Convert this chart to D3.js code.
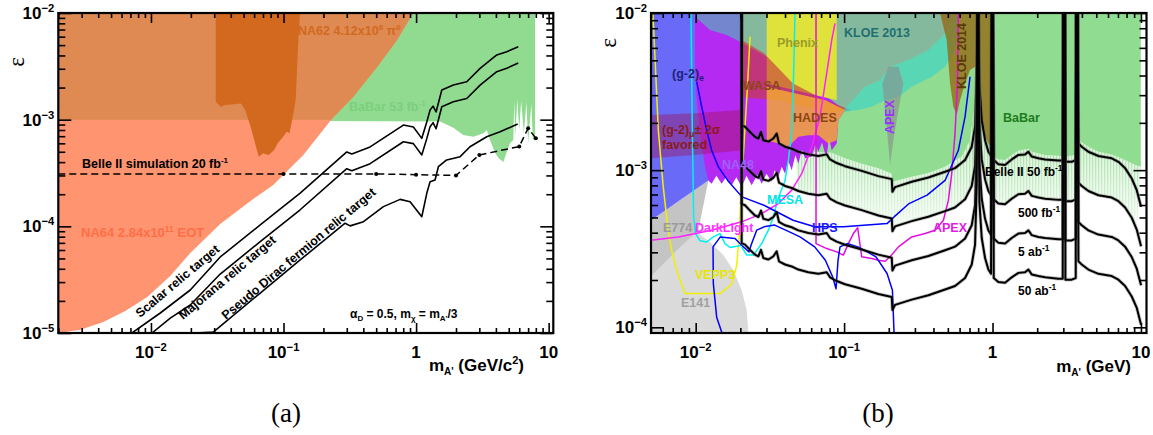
<!DOCTYPE html>
<html><head><meta charset="utf-8">
<script src="https://cdn.jsdelivr.net/npm/d3@7"></script>
<style>
body{margin:0;background:#fff}
svg{display:block}
text{font-family:"Liberation Sans",Arial,Helvetica,sans-serif;font-weight:bold}
text.serif{font-family:"Liberation Serif","Times New Roman",serif;font-weight:normal}
</style></head>
<body><svg id="c" width="1153" height="435"></svg>
<script>
// ================= DATA (left panel a) =================
const na64Edge = [[0.002,1e-5],[0.00293,1.07e-5],[0.00437,1.27e-5],[0.0064,1.61e-5],[0.00938,2.18e-5],[0.01397,3.42e-5],[0.0198,5.62e-5],[0.0333,1.05e-4],[0.059,1.8e-4],[0.0836,2.44e-4],[0.141,4.67e-4],[0.225,9.7e-4],[0.335,1.63e-3],[0.508,3.12e-3],[0.719,5.58e-3],[0.95,1e-2]];
const na62Spike = [[0.0308,1e-2],[0.0308,1.47e-3],[0.0336,1.32e-3],[0.0363,1.37e-3],[0.0477,1.42e-3],[0.0514,1.23e-3],[0.0565,8.6e-4],[0.0601,6.45e-4],[0.0629,5.2e-4],[0.0652,4.5e-4],[0.0702,4.84e-4],[0.0773,4.67e-4],[0.085,5.2e-4],[0.0903,6.0e-4],[0.0994,6.9e-4],[0.1057,7.7e-4],[0.111,7.45e-4],[0.116,9.9e-4],[0.1235,1.53e-3],[0.13,6.45e-3],[0.1333,1e-2]];
const babarLeft = [[0.002,1e-3],[1.52,9.6e-4],[1.91,8.4e-4],[2.27,7.2e-4],[2.7,6.9e-4],[3.22,7.45e-4],[3.41,8.0e-4],[3.61,6.45e-4],[3.94,4.9e-4],[4.17,4.4e-4],[4.55,4.0e-4],[4.75,4.7e-4],[5.11,6.0e-4],[5.41,6.45e-4],[5.5,1.5e-3],[5.6,7e-4],[5.8,1.55e-3],[6.0,8e-4],[6.2,1.5e-3],[6.5,7.5e-4],[6.8,1.45e-3],[7.0,6e-4],[7.4,1.4e-3],[7.6,6.5e-4],[7.9,6.5e-4],[7.9,1e-2],[0.002,1e-2]];
const scalarRelic = [[0.00719,1e-5],[0.01175,1.54e-5],[0.0198,2.53e-5],[0.0333,5.16e-5],[0.0667,1.03e-4],[0.1335,2.05e-4],[0.30,4.98e-4],[0.3275,4.76e-4],[0.45,5.55e-4],[0.802,8.9e-4],[0.954,8.53e-4],[1.104,6.68e-4],[1.204,9.5e-4],[1.275,1.23e-3],[1.343,1.34e-3],[1.415,1.18e-3],[1.563,1.9e-3],[1.91,2.11e-3],[2.41,2.27e-3],[3.04,3.03e-3],[4.06,4.04e-3],[4.83,4.34e-3],[5.9,4.83e-3]];
const majoranaRelic = [[0.01018,1e-5],[0.01398,1.38e-5],[0.0198,1.83e-5],[0.0333,3.57e-5],[0.0667,7.18e-5],[0.1335,1.43e-4],[0.30,3.47e-4],[0.3275,3.32e-4],[0.45,3.87e-4],[0.802,6.21e-4],[0.954,5.96e-4],[1.104,4.67e-4],[1.204,6.64e-4],[1.275,8.6e-4],[1.343,9.37e-4],[1.415,8.22e-4],[1.563,1.32e-3],[1.91,1.47e-3],[2.41,1.58e-3],[3.04,2.11e-3],[4.06,2.82e-3],[4.83,3.03e-3],[5.9,3.4e-3]];
const diracRelic = [[0.0216,1e-5],[0.0295,1.02e-5],[0.0667,2.37e-5],[0.1335,4.84e-5],[0.2915,1.07e-4],[0.318,1.01e-4],[0.401,1.105e-4],[0.567,1.53e-4],[0.758,1.79e-4],[0.901,1.70e-4],[1.104,1.23e-4],[1.204,2.04e-4],[1.275,2.62e-4],[1.39,2.72e-4],[1.473,3.62e-4],[1.70,4.19e-4],[2.15,4.5e-4],[2.55,5.58e-4],[3.41,6.92e-4],[4.3,7.7e-4],[5.84,9.1e-4]];
const belleSimMass = [0.002,0.1,0.5,1.0,2.0,3.0,6.0,7.0,8.0];
const belleSimEps  = [3.1e-4,3.1e-4,3.1e-4,3.05e-4,3.0e-4,4.67e-4,5.6e-4,8.3e-4,6.7e-4];
const leftXMajor = [0.01,0.1,1,10];
const leftXLabels = [["10","\u22122"],["10","\u22121"],["1",""],["10",""]];
const leftYMajor = [1e-2,1e-3,1e-4,1e-5];
const leftYLabels = [["10","\u22122"],["10","\u22123"],["10","\u22124"],["10","\u22125"]];

// ================= DATA (right panel b) =================
const e141 = [[0.005,9.2e-5],[0.02264,9.2e-5],[0.0221,1.28e-4],[0.0204,1.72e-4],[0.01794,2.31e-4],[0.01536,2.88e-4],[0.01249,3.49e-4],[0.01042,3.95e-4],[0.0094,4.8e-4],[0.005,7.8e-4]];
const e774 = [[0.005,4.8e-4],[0.005,2.12e-4],[0.00745,3.09e-4],[0.01042,4.15e-4],[0.01217,8.6e-4]];
const g2eRegion = [[0.005,1e-2],[0.0204,1e-2],[0.0204,1.22e-3],[0.01217,8.6e-4],[0.005,4.8e-4]];
const babarRightEdge = [[0.0204,1.55e-3],[0.02784,1.48e-3],[0.03606,1.41e-3],[0.04672,1.34e-3],[0.06049,1.31e-3],[0.08251,1.29e-3],[0.1015,1.19e-3],[0.1314,1.10e-3],[0.1702,1.03e-3],[0.2094,9.5e-4],[0.2116,8.43e-4],[0.2855,9.07e-4],[0.3698,9.6e-4],[0.4787,1.05e-3],[0.6203,1.22e-3],[0.7057,1.55e-3],[0.7627,2.79e-3],[0.7907,1e-2],[0.803,1e-2],[0.8155,3.56e-3],[0.8458,2.08e-3],[0.8908,1.63e-3],[0.9625,1.34e-3],[0.9876,1e-2],[1.019,1e-2],[1.019,1.22e-3],[1.095,1.17e-3],[1.215,1.16e-3],[1.347,1.25e-3],[1.494,1.33e-3],[1.745,1.37e-3],[1.837,1.31e-3],[2.26,1.25e-3],[2.926,1.23e-3],[2.988,1e-2],[3.097,1e-2],[3.097,1.22e-3],[3.636,1.25e-3],[3.655,1e-2],[3.751,1e-2],[3.79,1.55e-3],[4.426,1.41e-3],[5.17,1.31e-3],[6.357,1.26e-3],[7.82,1.16e-3],[9.13,1.08e-3],[9.98,1.05e-3]];
const na48 = [[0.0099,9.5e-3],[0.01249,7.8e-3],[0.01618,7.24e-3],[0.0199,6.57e-3],[0.0251,5.81e-3],[0.03606,4.78e-3],[0.05456,3.74e-3],[0.08251,2.79e-3],[0.1015,2.41e-3],[0.09148,2.08e-3],[0.08916,1.48e-3],[0.08251,1.34e-3],[0.079,1.6e-3],[0.0765,1.25e-3],[0.07439,1.28e-3],[0.071,1.5e-3],[0.0671,1.31e-3],[0.064,1.45e-3],[0.06049,1.22e-3],[0.05456,1.19e-3],[0.052,1.35e-3],[0.04917,1.10e-3],[0.047,1.25e-3],[0.04436,1.0e-3],[0.042,1.15e-3],[0.04,9.5e-4],[0.038,1.05e-3],[0.03606,9.07e-4],[0.034,1.0e-3],[0.0325,8.43e-4],[0.03,9.5e-4],[0.02784,8.2e-4],[0.026,9.3e-4],[0.02385,8.02e-4],[0.022,9.2e-4],[0.0204,7.8e-4],[0.0188,9.0e-4],[0.01748,8.02e-4],[0.016,9.0e-4],[0.01497,8.2e-4],[0.0138,9.2e-4],[0.0128,8.2e-4],[0.01217,8.6e-4],[0.01156,1.05e-3],[0.0107,1.71e-3],[0.01016,2.79e-3],[0.0099,4.55e-3]];
const g2muBand = [[0.005,2.24e-3],[0.0099,2.3e-3],[0.0204,2.41e-3],[0.0204,1.34e-3],[0.0099,1.25e-3],[0.005,1.19e-3]];
const kloeGray = [[0.0099,1e-2],[0.5449,1e-2],[0.4787,7.4e-3],[0.3698,5.81e-3],[0.2711,5.02e-3],[0.2072,4.55e-3],[0.1746,3.74e-3],[0.1384,3.4e-3],[0.09938,2.41e-3],[0.08251,2.79e-3],[0.05456,3.74e-3],[0.03606,4.78e-3],[0.0251,5.81e-3],[0.0199,6.57e-3],[0.01618,7.24e-3],[0.01249,7.8e-3],[0.0099,9.5e-3]];
const phenix = [[0.0301,1e-2],[0.08916,1e-2],[0.08916,2.79e-3],[0.0301,3.56e-3]];
const wasa = [[0.0204,6.73e-3],[0.02886,5.54e-3],[0.04529,3.56e-3],[0.07478,2.79e-3],[0.1113,2.41e-3],[0.08251,2.3e-3],[0.05456,2.53e-3],[0.03606,2.79e-3],[0.0251,2.86e-3],[0.0204,2.93e-3]];
const hades = [[0.0301,3.4e-3],[0.07478,2.79e-3],[0.1015,2.41e-3],[0.09148,2.08e-3],[0.08916,1.55e-3],[0.07834,1.48e-3],[0.0671,1.67e-3],[0.05743,1.67e-3],[0.04917,1.63e-3],[0.04212,1.41e-3],[0.03606,1.48e-3],[0.0301,1.55e-3]];
const kloe2013 = [[0.09938,2.41e-3],[0.1384,3.4e-3],[0.1746,3.74e-3],[0.2072,4.55e-3],[0.2711,5.02e-3],[0.3698,5.81e-3],[0.4787,7.4e-3],[0.5449,1e-2],[0.5888,1e-2],[0.5888,8.2e-3],[0.559,5.81e-3],[0.4787,4.55e-3],[0.3893,3.93e-3],[0.2855,3.4e-3],[0.2322,2.93e-3],[0.1887,2.79e-3],[0.1535,2.53e-3],[0.1248,2.41e-3],[0.1015,2.35e-3]];
const apexRegion = [[0.1811,3.56e-3],[0.1937,1.89e-3],[0.204,1.08e-3],[0.2148,1.55e-3],[0.2322,2.41e-3],[0.2508,3.56e-3],[0.2322,4.55e-3],[0.1988,4.55e-3]];
const kloe2014 = [[0.4431,1e-2],[0.9876,1e-2],[0.9876,1.41e-3],[0.9378,1.48e-3],[0.8681,1.71e-3],[0.803,2.79e-3],[0.7627,4.55e-3],[0.7057,4.34e-3],[0.6531,3.56e-3],[0.6044,2.79e-3],[0.5738,2.24e-3],[0.5449,2.53e-3],[0.5174,3.56e-3],[0.4913,6.73e-3],[0.4548,9.03e-3]];
const vepp3Line = [[0.00513,9.95e-3],[0.00518,9.03e-3],[0.0056,1.8e-3],[0.00605,7.8e-4],[0.00648,4.36e-4],[0.00689,3.09e-4],[0.00745,2.31e-4],[0.00847,1.64e-4],[0.01459,1.64e-4],[0.01748,1.88e-4],[0.0189,2.48e-4],[0.0197,3.95e-4],[0.0204,8.2e-4],[0.0215,1.89e-3],[0.0224,3.56e-3],[0.02323,7.06e-3]];
const mesaLine1 = [[0.0093,1e-2],[0.0095,1.71e-3],[0.00969,5.04e-4],[0.01,3.95e-4],[0.0107,3.55e-4],[0.01186,3.49e-4],[0.01315,3.76e-4],[0.01459,3.95e-4],[0.01577,3.41e-4],[0.01703,3.22e-4],[0.0189,3.28e-4],[0.0204,3.33e-4]];
const mesaLine2 = [[0.0204,3.25e-4],[0.0221,2.88e-4],[0.02447,2.88e-4],[0.02784,3.41e-4],[0.0309,4.15e-4],[0.03337,5.04e-4],[0.03515,6.13e-4],[0.037,7.1e-4],[0.04,8.6e-4],[0.04212,1.16e-3],[0.04436,1.71e-3],[0.04552,3.56e-3],[0.04672,1e-2]];
const darkLightLine = [[0.005,3.58e-4],[0.00764,3.76e-4],[0.0128,4.15e-4],[0.0204,4.69e-4],[0.02784,5.29e-4],[0.03606,6.13e-4],[0.04436,7.46e-4],[0.05179,9.5e-4],[0.06049,1.41e-3],[0.06883,2.19e-3],[0.07634,4.13e-3],[0.08251,6.73e-3],[0.08688,8.6e-3]];
const apexLine = [[0.06469,1e-2],[0.06469,3.41e-4],[0.07634,3.17e-4],[0.08916,3.02e-4],[0.09886,2.88e-4],[0.1068,3.41e-4],[0.1155,3.95e-4],[0.1235,4.3e-4],[0.1314,2.81e-4],[0.1535,2.74e-4],[0.1702,2.67e-4],[0.1887,2.63e-4],[0.204,2.81e-4],[0.2322,3.25e-4],[0.2855,3.76e-4],[0.3511,3.95e-4],[0.41,4.15e-4],[0.4667,4.8e-4],[0.5042,6.44e-4],[0.531,9.5e-4],[0.559,1.71e-3],[0.5798,3.56e-3],[0.5888,1e-2]];
const g2eLine = [[0.01016,3.66e-3],[0.01098,2.53e-3],[0.01186,1.8e-3],[0.0128,1.34e-3],[0.01421,1.05e-3],[0.01643,8.6e-4],[0.0205,6.76e-4],[0.02886,5.98e-4],[0.04529,4.8e-4],[0.06337,4.36e-4],[0.09938,4.36e-4],[0.1947,4.57e-4],[0.2171,5.04e-4],[0.2739,6.13e-4],[0.3622,6.93e-4],[0.4787,8.6e-4],[0.5888,1.34e-3],[0.6531,2.19e-3],[0.7057,3.93e-3]];
const hpsLine = [[0.01504,9.2e-5],[0.01385,1.16e-4],[0.01315,1.9e-4],[0.01309,3.25e-4],[0.01466,3.76e-4],[0.01841,3.67e-4],[0.0204,3.33e-4],[0.02288,3.02e-4],[0.0236,3.33e-4],[0.02576,4.15e-4],[0.02886,4.36e-4],[0.03407,4.47e-4],[0.04042,4.15e-4],[0.05047,3.76e-4],[0.06337,3.25e-4],[0.07478,2.67e-4],[0.08379,2.09e-4],[0.08824,1.76e-4],[0.091,2.67e-4],[0.09388,3.25e-4],[0.1047,3.41e-4],[0.1241,3.25e-4],[0.1641,2.81e-4],[0.1947,2.2e-4],[0.2116,1.72e-4],[0.2171,9.2e-5]];
const belleMass = [0.0204,0.0204,0.0215,0.02323,0.0251,0.02645,0.02755,0.02857,0.0309,0.03337,0.03515,0.03644,0.04,0.04436,0.04917,0.05743,0.0671,0.07634,0.08039,0.08916,0.1015,0.1314,0.1702,0.2094,0.2116,0.2205,0.2855,0.3698,0.4787,0.559,0.6531,0.7244,0.7627,0.7827,0.7907,0.803,0.8155,0.8458,0.8908,0.9378,0.9775,0.9876,1.008,1.019,1.095,1.215,1.347,1.494,1.656,1.745,1.837,2.038,2.26,2.779,2.972,2.988,3.082,3.097,3.418,3.636,3.655,3.751,3.79,3.99,4.426,5.17,6.357,7.05,7.82,8.67,9.37,10.02];
const belle50fb = [1e-2,1.93e-3,1.89e-3,1.75e-3,1.63e-3,1.59e-3,1.75e-3,1.55e-3,1.52e-3,1.59e-3,1.71e-3,1.48e-3,1.41e-3,1.37e-3,1.31e-3,1.26e-3,1.23e-3,1.26e-3,1.17e-3,1.11e-3,1.06e-3,9.9e-4,9.16e-4,8.77e-4,7.28e-4,7.8e-4,8.43e-4,8.98e-4,9.76e-4,1.03e-3,1.16e-3,1.41e-3,1.89e-3,4.55e-3,1e-2,1e-2,3.56e-3,2.08e-3,1.55e-3,1.31e-3,1.23e-3,1e-2,1e-2,1.16e-3,1.09e-3,1.08e-3,1.17e-3,1.25e-3,1.26e-3,1.31e-3,1.22e-3,1.19e-3,1.17e-3,1.15e-3,1.15e-3,1e-2,1e-2,1.13e-3,1.13e-3,1.16e-3,1e-2,1e-2,1.48e-3,1.41e-3,1.31e-3,1.23e-3,1.19e-3,1.13e-3,1.03e-3,8.85e-4,7.46e-4,5.84e-4];
const belle500fb = [1e-2,1.085e-3,1.063e-3,9.84e-4,9.17e-4,8.94e-4,9.84e-4,8.72e-4,8.55e-4,8.94e-4,9.62e-4,8.32e-4,7.93e-4,7.7e-4,7.37e-4,7.08e-4,6.92e-4,7.08e-4,6.58e-4,6.24e-4,5.96e-4,5.57e-4,5.15e-4,4.93e-4,4.09e-4,4.39e-4,4.74e-4,5.05e-4,5.49e-4,5.79e-4,6.52e-4,7.93e-4,1.063e-3,2.56e-3,1e-2,1e-2,2.0e-3,1.17e-3,8.72e-4,7.37e-4,6.92e-4,1e-2,1e-2,6.52e-4,6.13e-4,6.07e-4,6.58e-4,7.03e-4,7.08e-4,7.37e-4,6.86e-4,6.69e-4,6.58e-4,6.47e-4,6.47e-4,1e-2,1e-2,6.35e-4,6.35e-4,6.52e-4,1e-2,1e-2,8.32e-4,7.93e-4,7.37e-4,6.92e-4,6.69e-4,6.35e-4,5.79e-4,4.98e-4,4.19e-4,3.28e-4];
const belle5ab = [1e-2,6.1e-4,5.98e-4,5.53e-4,5.15e-4,5.03e-4,5.53e-4,4.9e-4,4.81e-4,5.03e-4,5.41e-4,4.68e-4,4.46e-4,4.33e-4,4.14e-4,3.98e-4,3.89e-4,3.98e-4,3.7e-4,3.51e-4,3.35e-4,3.13e-4,2.9e-4,2.77e-4,2.3e-4,2.47e-4,2.67e-4,2.84e-4,3.09e-4,3.26e-4,3.67e-4,4.46e-4,5.98e-4,1.44e-3,1e-2,1e-2,1.13e-3,6.58e-4,4.9e-4,4.14e-4,3.89e-4,1e-2,1e-2,3.67e-4,3.45e-4,3.41e-4,3.7e-4,3.95e-4,3.98e-4,4.14e-4,3.86e-4,3.76e-4,3.7e-4,3.64e-4,3.64e-4,1e-2,1e-2,3.57e-4,3.57e-4,3.67e-4,1e-2,1e-2,4.68e-4,4.46e-4,4.14e-4,3.89e-4,3.76e-4,3.57e-4,3.26e-4,2.8e-4,2.36e-4,1.85e-4];
const belle50ab = [1e-2,3.43e-4,3.36e-4,3.11e-4,2.9e-4,2.83e-4,3.11e-4,2.76e-4,2.7e-4,2.83e-4,3.04e-4,2.63e-4,2.51e-4,2.44e-4,2.33e-4,2.24e-4,2.19e-4,2.24e-4,2.08e-4,1.97e-4,1.88e-4,1.76e-4,1.63e-4,1.56e-4,1.29e-4,1.39e-4,1.5e-4,1.6e-4,1.74e-4,1.83e-4,2.06e-4,2.51e-4,3.36e-4,8.09e-4,1e-2,1e-2,6.33e-4,3.7e-4,2.76e-4,2.33e-4,2.19e-4,1e-2,1e-2,2.06e-4,1.94e-4,1.92e-4,2.08e-4,2.22e-4,2.24e-4,2.33e-4,2.17e-4,2.12e-4,2.08e-4,2.04e-4,2.04e-4,1e-2,1e-2,2.01e-4,2.01e-4,2.06e-4,1e-2,1e-2,2.63e-4,2.51e-4,2.33e-4,2.19e-4,2.12e-4,2.01e-4,1.83e-4,1.57e-4,1.33e-4,1.04e-4];
const rightXMajor = [0.01,0.1,1,10];
const rightXLabels = [["10","\u22122"],["10","\u22121"],["1",""],["10",""]];
const rightYMajor = [1e-2,1e-3,1e-4];
const rightYLabels = [["10","\u22122"],["10","\u22123"],["10","\u22124"]];

// ================= DRAWING =================
const svg = d3.select("#c");
const defs = svg.append("defs");

const xL = d3.scaleLog().domain([0.002,10.84]).range([58.3,553.3]);
const yL = d3.scaleLog().domain([1e-5,1e-2]).range([333,13]);
const xR = d3.scaleLog().domain([0.005,10.9]).range([651,1146.5]);
const yR = d3.scaleLog().domain([9.2e-5,1e-2]).range([333,13]);

function clip(id, x, y){
  defs.append("clipPath").attr("id",id).append("rect")
    .attr("x",x.range()[0]).attr("y",y.range()[1])
    .attr("width",x.range()[1]-x.range()[0]).attr("height",y.range()[0]-y.range()[1]);
}
clip("clipL",xL,yL); clip("clipR",xR,yR);

const grad = defs.append("linearGradient").attr("id","fuzz").attr("x1",0).attr("y1",0).attr("x2",0).attr("y2",1);
grad.append("stop").attr("offset","0%").attr("stop-color","#90DC90").attr("stop-opacity",0.9);
grad.append("stop").attr("offset","100%").attr("stop-color","#90DC90").attr("stop-opacity",0.1);
const pat = defs.append("pattern").attr("id","stripes").attr("patternUnits","userSpaceOnUse").attr("width",3).attr("height",10);
pat.append("rect").attr("x",0).attr("y",0).attr("width",1.2).attr("height",10).attr("fill","#7FD07F");
const mgrad = defs.append("linearGradient").attr("id","fmg").attr("x1",0).attr("y1",0).attr("x2",0).attr("y2",1);
mgrad.append("stop").attr("offset","0%").attr("stop-color","#fff");
mgrad.append("stop").attr("offset","100%").attr("stop-color","#000");
defs.append("mask").attr("id","fmask").attr("maskContentUnits","objectBoundingBox")
  .append("rect").attr("width",1).attr("height",1).attr("fill","url(#fmg)");

function poly(g, pts, x, y, fill, opacity){
  const line = d3.line().x(d=>x(d[0])).y(d=>y(d[1]));
  return g.append("path").attr("d", line(pts)+"Z").attr("fill",fill).attr("fill-opacity",opacity==null?1:opacity).attr("stroke","none");
}
function curve(g, pts, x, y, color, w, dash){
  const line = d3.line().x(d=>x(d[0])).y(d=>y(d[1]));
  const p = g.append("path").attr("d", line(pts)).attr("fill","none").attr("stroke",color).attr("stroke-width",w).attr("stroke-linejoin","round");
  if(dash) p.attr("stroke-dasharray",dash);
  return p;
}
function powText(g, base, exp, x, y, anchor, size){
  const t = g.append("text").attr("x",x).attr("y",y).attr("text-anchor",anchor).attr("font-size",size).attr("fill","#000");
  t.append("tspan").text(base);
  if(exp) t.append("tspan").attr("dy",-size*0.42).attr("font-size",size*0.66).text(exp);
  return t;
}

function axes(g, x, y, xMaj, xLab, yMaj, yLab){
  const [x0,x1] = x.range(), [y1,y0] = y.range();
  const xMinor = x.ticks().filter(v=>!xMaj.includes(v));
  const yMinor = y.ticks().filter(v=>!yMaj.some(m=>Math.abs(m-v)/m<1e-6));
  const ax = g.append("g").attr("stroke","#000");
  const mk = (axisFn, scale, vals, size, tr) => {
    const a = ax.append("g").attr("transform",tr).call(axisFn(scale).tickValues(vals).tickSize(size).tickFormat(""));
    a.select(".domain").remove();
    a.selectAll("line").attr("stroke","#000").attr("stroke-width",1.6);
  };
  mk(d3.axisBottom, x, xMinor, -5, `translate(0,${y1})`);
  mk(d3.axisBottom, x, xMaj, -10, `translate(0,${y1})`);
  mk(d3.axisTop, x, xMinor, -5, `translate(0,${y0})`);
  mk(d3.axisTop, x, xMaj, -10, `translate(0,${y0})`);
  mk(d3.axisLeft, y, yMinor, -7, `translate(${x0},0)`);
  mk(d3.axisLeft, y, yMaj, -13, `translate(${x0},0)`);
  mk(d3.axisRight, y, yMinor, -7, `translate(${x1},0)`);
  mk(d3.axisRight, y, yMaj, -13, `translate(${x1},0)`);
  g.append("rect").attr("x",x0).attr("y",y0).attr("width",x1-x0).attr("height",y1-y0)
    .attr("fill","none").attr("stroke","#000").attr("stroke-width",2.2);
  xMaj.forEach((v,i)=>powText(g, xLab[i][0], xLab[i][1], x(v), 358, "middle", 17));
  yMaj.forEach((v,i)=>powText(g, yLab[i][0], yLab[i][1], x0-4, y(v)+6, "end", 17));
}

// ---------- LEFT PANEL ----------
const gL = svg.append("g");
const pL = gL.append("g").attr("clip-path","url(#clipL)");
poly(pL, babarLeft, xL, yL, "#90DB90");
poly(pL, na64Edge.concat([[0.002,1e-2]]), xL, yL, "#FF9470");
const bandPts = [[0.002,1e-3],[0.228,1e-3]].concat(na64Edge.filter(d=>d[1]>1e-3)).concat([[0.002,1e-2]]);
poly(pL, bandPts, xL, yL, "#DE8A52");
poly(pL, na62Spike, xL, yL, "#D2691E");
curve(pL, scalarRelic, xL, yL, "#000", 1.6);
curve(pL, majoranaRelic, xL, yL, "#000", 1.6);
curve(pL, diracRelic, xL, yL, "#000", 1.6);
const simPts = belleSimMass.map((m,i)=>[m,belleSimEps[i]]);
curve(pL, simPts, xL, yL, "#000", 1.5, "7,4");
pL.selectAll("circle.sim").data(simPts.slice(1)).join("circle")
  .attr("cx",d=>xL(d[0])).attr("cy",d=>yL(d[1])).attr("r",2).attr("fill","#000");

const tNA62 = gL.append("text").attr("x",298).attr("y",35).attr("font-size",12.5).attr("fill","#D2691E");
tNA62.append("tspan").text("NA62 4.12x10");
tNA62.append("tspan").attr("dy",-5).attr("font-size",8).text("8");
tNA62.append("tspan").attr("dy",5).text(" \u03C0");
tNA62.append("tspan").attr("dy",-5).attr("font-size",8).text("0");
const tBB = gL.append("text").attr("x",349).attr("y",111).attr("font-size",12.5).attr("fill","#7CCF7C");
tBB.append("tspan").text("BaBar 53 fb");
tBB.append("tspan").attr("dy",-5).attr("font-size",8).text("-1");
const tBS = gL.append("text").attr("x",82).attr("y",168).attr("font-size",12.5).attr("fill","#000");
tBS.append("tspan").text("Belle II simulation 20 fb");
tBS.append("tspan").attr("dy",-5).attr("font-size",8).text("-1");
const tNA64 = gL.append("text").attr("x",81).attr("y",237).attr("font-size",13).attr("fill","#FF6E46");
tNA64.append("tspan").text("NA64 2.84x10");
tNA64.append("tspan").attr("dy",-5).attr("font-size",8.5).text("11");
tNA64.append("tspan").attr("dy",5).text(" EOT");
gL.append("text").attr("transform","translate(140,318) rotate(-40)").attr("font-size",12.5).text("Scalar relic target");
gL.append("text").attr("transform","translate(183,320) rotate(-40)").attr("font-size",12.5).text("Majorana relic target");
gL.append("text").attr("transform","translate(226,320) rotate(-40)").attr("font-size",12.5).text("Pseudo Dirac fermion relic target");
const tAl = gL.append("text").attr("x",350).attr("y",318).attr("font-size",12).attr("fill","#000");
tAl.append("tspan").text("\u03B1");
tAl.append("tspan").attr("dy",3).attr("font-size",8).text("D");
tAl.append("tspan").attr("dy",-3).text(" = 0.5, m");
tAl.append("tspan").attr("dy",3).attr("font-size",8).text("\u03C7");
tAl.append("tspan").attr("dy",-3).text(" = m");
tAl.append("tspan").attr("dy",3).attr("font-size",8).text("A'");
tAl.append("tspan").attr("dy",-3).text("/3");
axes(gL, xL, yL, leftXMajor, leftXLabels, leftYMajor, leftYLabels);
const tXL = gL.append("text").attr("x",524).attr("y",371).attr("text-anchor","end").attr("font-size",17);
tXL.append("tspan").text("m");
tXL.append("tspan").attr("dy",4).attr("font-size",10).text("A'");
tXL.append("tspan").attr("dy",-4).text(" (GeV/c");
tXL.append("tspan").attr("dy",-7).attr("font-size",11).text("2");
tXL.append("tspan").attr("dy",7).text(")");
gL.append("text").attr("class","serif").attr("transform","translate(24,62) rotate(-90)").attr("text-anchor","middle")
  .attr("font-size",23).text("\u03B5");
gL.append("text").attr("class","serif").attr("x",286).attr("y",422).attr("text-anchor","middle").attr("font-size",27).text("(a)");

// ---------- RIGHT PANEL ----------
const gR = svg.append("g");
const pR = gR.append("g").attr("clip-path","url(#clipR)");
poly(pR, e141, xR, yR, "#DADADA");
poly(pR, e774, xR, yR, "#C4C4C4");
poly(pR, g2eRegion, xR, yR, "#6A6AF8");
poly(pR, babarRightEdge.concat([[9.98,1e-2],[0.0204,1e-2]]), xR, yR, "#90DC90");
const fzTop = babarRightEdge.filter(d=>d[0]>=0.045 && d[1]<1e-2);
const fzBot = belleMass.map((m,i)=>[m,belle500fb[i]]).filter(d=>d[0]>=0.045 && d[0]<=9.98 && d[1]<1e-2).reverse();
poly(pR, fzTop.concat(fzBot), xR, yR, "url(#fuzz)", 0.55);
poly(pR, fzTop.concat(fzBot), xR, yR, "url(#stripes)").attr("mask","url(#fmask)");
poly(pR, na48, xR, yR, "#B42AF2");
poly(pR, g2muBand, xR, yR, "#A01050", 0.4);
poly(pR, kloeGray, xR, yR, "#7C9CAA", 0.55);
poly(pR, phenix, xR, yR, "#DEE23A");
poly(pR, wasa, xR, yR, "#C83C3C", 0.65);
poly(pR, hades, xR, yR, "#F5AF2D", 0.8);
poly(pR, kloe2013, xR, yR, "#3CD2C8", 0.65);
poly(pR, apexRegion, xR, yR, "#8C8C8C", 0.6);
poly(pR, kloe2014, xR, yR, "#96640F", 0.75);
curve(pR, vepp3Line, xR, yR, "#F0F000", 1.5);
curve(pR, mesaLine1, xR, yR, "#00F0F0", 1.5);
curve(pR, mesaLine2, xR, yR, "#00F0F0", 1.5);
curve(pR, darkLightLine, xR, yR, "#FF20FF", 1.5);
curve(pR, apexLine, xR, yR, "#E010E0", 1.5);
curve(pR, g2eLine, xR, yR, "#0000FF", 1.5);
curve(pR, hpsLine, xR, yR, "#0000FF", 1.5);
[belle50fb, belle500fb, belle5ab, belle50ab].forEach(arr=>{
  const pts = belleMass.map((m,i)=>[m,arr[i]]);
  curve(pR, pts, xR, yR, "#555", 3.6).attr("stroke-opacity",0.35);
  curve(pR, pts, xR, yR, "#000", 2);
});

function lab(g, x, y, size, color, parts, rot){
  const t = g.append("text").attr("font-size",size).attr("fill",color);
  if(rot!=null) t.attr("transform",`translate(${x},${y}) rotate(${rot})`).attr("text-anchor","middle");
  else t.attr("x",x).attr("y",y);
  parts.forEach(p=>{
    const s = t.append("tspan").text(p[0]);
    if(p[1]==="sub") s.attr("dy",3).attr("font-size",size*0.7);
    else if(p[1]==="sup") s.attr("dy",-5).attr("font-size",size*0.7);
    else if(p[1]==="back") s.attr("dy",p[2]);
  });
  return t;
}
lab(gR, 672, 78, 12.5, "#1E1E78", [["(g-2)"],["e","sub"]]);
lab(gR, 662, 134, 12.5, "#8B1A1A", [["(g-2)"],["\u03BC","sub"],["\u00B1 2\u03C3","back",-3]]);
lab(gR, 662, 149, 12.5, "#8B1A1A", [["favored"]]);
lab(gR, 743, 90, 12.5, "#8B4513", [["WASA"]]);
lab(gR, 777, 47, 12.5, "#9C9C2A", [["Phenix"]]);
lab(gR, 844, 37, 12.5, "#1F6F6F", [["KLOE 2013"]]);
lab(gR, 793, 122, 12.5, "#8B4513", [["HADES"]]);
lab(gR, 894, 117, 12.5, "#9933FF", [["APEX"]], -90);
lab(gR, 966, 56, 12.5, "#5C3A0A", [["KLOE 2014"]], -90);
lab(gR, 1003, 122, 12.5, "#1E7B1E", [["BaBar"]]);
lab(gR, 722, 169, 12.5, "#9F5FFF", [["NA48"]]);
lab(gR, 767, 204, 12.5, "#00E5E5", [["MESA"]]);
lab(gR, 663, 232, 12.5, "#9A9A9A", [["E774"]]);
lab(gR, 695, 232, 12.5, "#FF33FF", [["DarkLight"]]);
lab(gR, 812, 232, 12.5, "#1A1AFF", [["HPS"]]);
lab(gR, 933, 232, 12.5, "#E020E0", [["APEX"]]);
lab(gR, 695, 279, 12.5, "#E6E600", [["VEPP3"]]);
lab(gR, 681, 307, 12.5, "#A0A0A0", [["E141"]]);
lab(gR, 985, 176, 12, "#000", [["Belle II 50 fb"],["-1","sup"]]);
lab(gR, 1018, 217, 12, "#000", [["500 fb"],["-1","sup"]]);
lab(gR, 1018, 256, 12, "#000", [["5 ab"],["-1","sup"]]);
lab(gR, 1018, 295, 12, "#000", [["50 ab"],["-1","sup"]]);

axes(gR, xR, yR, rightXMajor, rightXLabels, rightYMajor, rightYLabels);
const tXR = gR.append("text").attr("x",1131).attr("y",372).attr("text-anchor","end").attr("font-size",17);
tXR.append("tspan").text("m");
tXR.append("tspan").attr("dy",4).attr("font-size",10).text("A'");
tXR.append("tspan").attr("dy",-4).text(" (GeV)");
gR.append("text").attr("class","serif").attr("transform","translate(616,43) rotate(-90)").attr("text-anchor","middle")
  .attr("font-size",23).text("\u03B5");
gR.append("text").attr("class","serif").attr("x",878).attr("y",422).attr("text-anchor","middle").attr("font-size",27).text("(b)");
</script></body></html>
